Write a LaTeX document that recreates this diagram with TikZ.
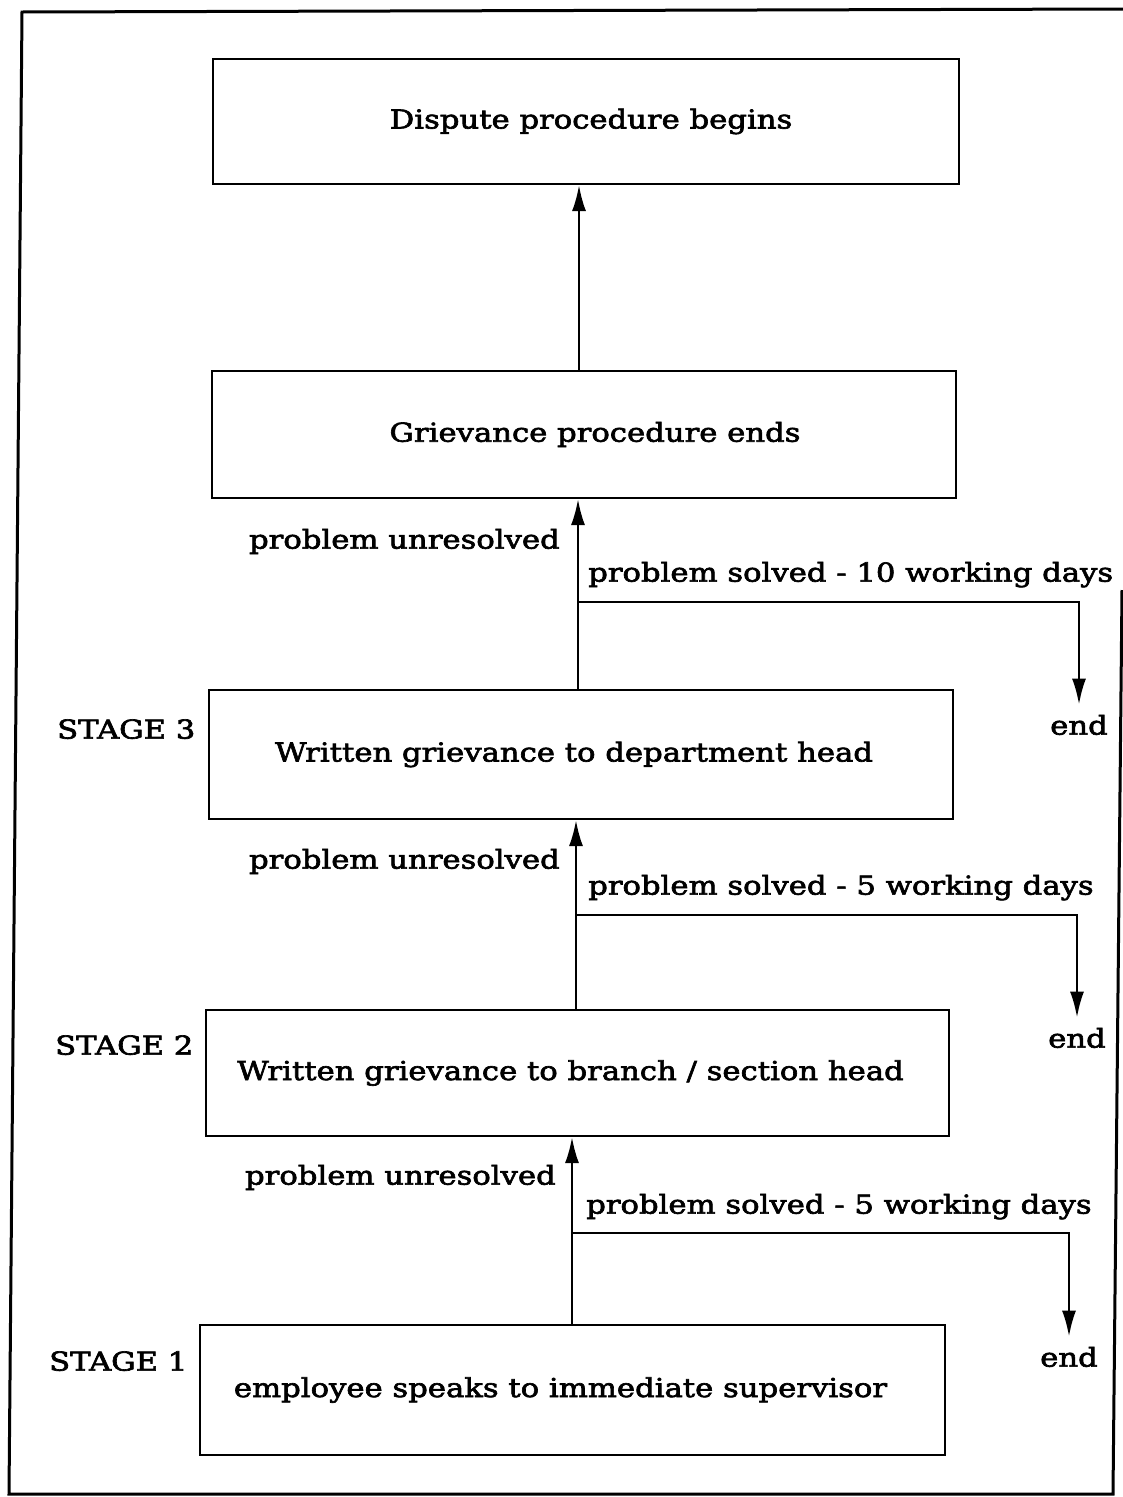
\documentclass[tikz,border=0pt]{standalone}
\usepackage{fontspec}
\setmainfont{DejaVu Serif}[FakeStretch=1.18, FakeBold=2.5]
\usetikzlibrary{arrows.meta}
\begin{document}
\begin{tikzpicture}[x=1pt,y=-1pt,
  txt/.style={font=\fontsize{26}{30}\selectfont},
  box/.style={draw, line width=2pt, inner sep=0pt, txt},
  lbl/.style={inner sep=0pt, txt},
  endlbl/.style={inner sep=6pt, txt},
  arr/.style={line width=2.5pt, -{Latex[length=26pt,width=14pt]}},
  frame/.style={line width=3pt}]
\useasboundingbox (0,0) rectangle (1123,1497);

% outer frame
\draw[frame] (1123,9) -- (22,12) -- (9,1494) -- (1113,1494) -- (1122,590);

% procedure boxes
\node[box, minimum width=746pt, minimum height=125pt] (b1) at (586,121.5)
  {\hspace*{10pt}Dispute procedure begins};
\node[box, minimum width=744pt, minimum height=127pt] (b2) at (584,434.5)
  {\hspace*{22pt}Grievance procedure ends};
\node[box, minimum width=744pt, minimum height=129pt] (b3) at (581,754.5)
  {Written grievance to department head\hspace*{14pt}};
\node[box, minimum width=743pt, minimum height=126pt] (b4) at (577.5,1073)
  {Written grievance to branch / section head\hspace*{14pt}};
\node[box, minimum width=745pt, minimum height=130pt] (b5) at (572.5,1390)
  {employee speaks to immediate supervisor\hspace*{24pt}};

% stage labels
\node[lbl, anchor=mid west] (st3) at (57,736) {STAGE 3};
\node[lbl, anchor=mid west] (st2) at (55,1052) {STAGE 2};
\node[lbl, anchor=mid west] (st1) at (49,1368) {STAGE 1};

% branch labels
\node[lbl, anchor=mid east] (u2) at (560,546) {problem unresolved};
\node[lbl, anchor=mid west] (s2) at (588,579) {problem solved - 10 working days};
\node[lbl, anchor=mid east] (u3) at (560,866) {problem unresolved};
\node[lbl, anchor=mid west] (s3) at (588,892) {problem solved - 5 working days};
\node[lbl, anchor=mid east] (u4) at (556,1182) {problem unresolved};
\node[lbl, anchor=mid west] (s4) at (586,1211) {problem solved - 5 working days};

% end labels
\node[endlbl, anchor=mid] (e2) at (1079,732) {end};
\node[endlbl, anchor=mid] (e3) at (1077,1045) {end};
\node[endlbl, anchor=mid] (e4) at (1069,1364) {end};

% trunk and junctions
\coordinate (t1) at (579,300);
\coordinate (j2) at (578,602);
\coordinate (j3) at (576,915);
\coordinate (j4) at (572,1233);

% connectors
\draw[arr] (b2.north -| t1) -- (b1.south -| t1);
\draw[arr] (b3.north -| j2) -- (b2.south -| j2);
\draw[arr, shorten >=4pt] (j2) -| (e2.north);
\draw[arr] (b4.north -| j3) -- (b3.south -| j3);
\draw[arr, shorten >=4pt] (j3) -| (e3.north);
\draw[arr] (b5.north -| j4) -- (b4.south -| j4);
\draw[arr, shorten >=4pt] (j4) -| (e4.north);
\end{tikzpicture}
\end{document}
